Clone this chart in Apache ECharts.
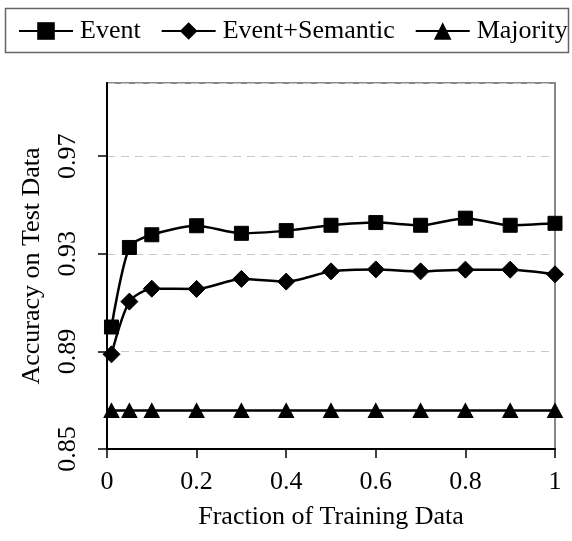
<!DOCTYPE html>
<html>
<head>
<meta charset="utf-8">
<script src="https://cdn.jsdelivr.net/npm/echarts@6/dist/echarts.min.js"></script>
<style>
html,body{margin:0;padding:0;background:#fff;}
#chart{width:572px;height:541px;}
</style>
</head>
<body>
<div id="chart"></div>
<script>
const xValues = [0.01, 0.05, 0.1, 0.2, 0.3, 0.4, 0.5, 0.6, 0.7, 0.8, 0.9, 1.0];
const eventVals = [0.900, 0.9326, 0.9378, 0.9415, 0.9384, 0.9395, 0.9417, 0.9428, 0.9417, 0.9446, 0.9417, 0.9425];
const eventSemVals = [0.8888, 0.9104, 0.9157, 0.9156, 0.9197, 0.9186, 0.9228, 0.9236, 0.9228, 0.9235, 0.9235, 0.9216];
const majorityVals = [0.8658, 0.8658, 0.8658, 0.8658, 0.8658, 0.8658, 0.8658, 0.8658, 0.8658, 0.8658, 0.8658, 0.8658];
const seriesNames = ['Event', 'Event+Semantic', 'Majority'];
const yTicks = [0.85, 0.89, 0.93, 0.97];

const FONT = '"Liberation Serif", "Times New Roman", serif';
const pairs = vals => xValues.map((x, i) => [x, vals[i]]);

const chart = echarts.init(document.getElementById('chart'), null, {renderer: 'canvas'});
const mk = (name, vals, symbol, size) => ({
  name: name,
  type: 'line',
  data: pairs(vals),
  symbol: symbol,
  symbolSize: size,
  smooth: 0.25,
  showAllSymbol: true,
  lineStyle: {color: '#000', width: 2.5},
  itemStyle: {color: '#000', borderColor: '#000'},
  emphasis: {disabled: true},
  animation: false
});

chart.setOption({
  animation: false,
  backgroundColor: '#fff',
  textStyle: {fontFamily: FONT},
  graphic: [{
    type: 'rect',
    shape: {x: 5.5, y: 8.5, width: 563, height: 44},
    style: {fill: 'none', stroke: '#666', lineWidth: 1.5},
    z: 0
  }],
  legend: {
    left: 18,
    top: 18,
    itemWidth: 54,
    itemHeight: 22,
    itemGap: 20,
    padding: 0,
    data: seriesNames,
    textStyle: {fontFamily: FONT, fontSize: 26, color: '#000', padding: [2, 0, 0, 2]}
  },
  grid: {
    left: 107, right: 17, top: 83, bottom: 92,
    show: true, borderColor: '#888', borderWidth: 2, backgroundColor: 'transparent'
  },
  xAxis: {
    type: 'value',
    min: 0, max: 1, interval: 0.2,
    name: 'Fraction of Training Data',
    nameLocation: 'middle',
    nameGap: 55,
    nameTextStyle: {fontFamily: FONT, fontSize: 26, color: '#000'},
    axisLine: {show: true, lineStyle: {color: '#000', width: 2}},
    axisTick: {show: true, length: 9, lineStyle: {color: '#000', width: 1.5}},
    axisLabel: {fontFamily: FONT, fontSize: 26, color: '#000', margin: 20},
    splitLine: {show: false}
  },
  yAxis: {
    type: 'value',
    min: 0.85, max: 1.0, interval: 0.04,
    name: 'Accuracy on Test Data',
    nameLocation: 'middle',
    nameRotate: 90,
    nameGap: 62,
    nameTextStyle: {fontFamily: FONT, fontSize: 26, color: '#000'},
    axisLine: {show: true, lineStyle: {color: '#000', width: 2}},
    axisTick: {show: true, length: 9, lineStyle: {color: '#000', width: 1.5}},
    axisLabel: {
      fontFamily: FONT, fontSize: 26, color: '#000', rotate: 90, margin: 26,
      showMaxLabel: false,
      formatter: v => yTicks.some(t => Math.abs(t - v) < 1e-6) ? v.toFixed(2) : ''
    },
    splitLine: {show: true, lineStyle: {color: '#c8c8c8', type: [8, 6], width: 1.2}}
  },
  series: [
    mk(seriesNames[0], eventVals, 'rect', 14),
    mk(seriesNames[1], eventSemVals, 'diamond', [17, 17]),
    mk(seriesNames[2], majorityVals, 'triangle', [15, 14])
  ]
});
</script>
</body>
</html>
